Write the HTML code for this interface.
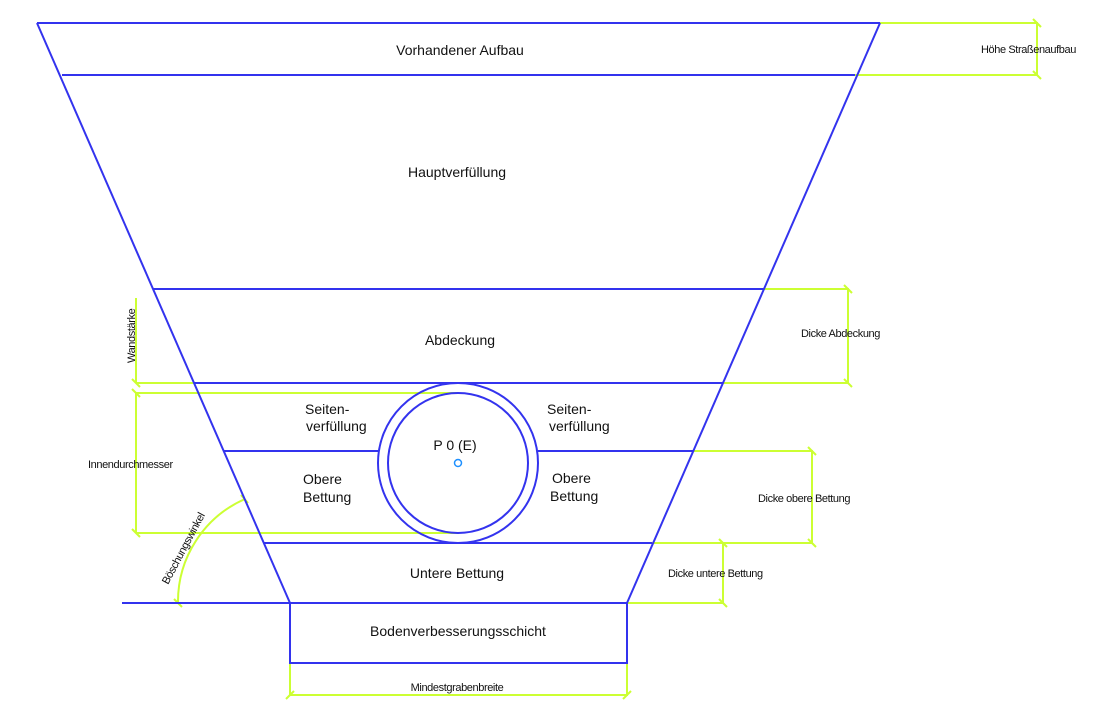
<!DOCTYPE html>
<html><head><meta charset="utf-8"><style>
html,body{margin:0;padding:0;background:#fff;}
svg{display:block;}
text{font-family:"Liberation Sans",sans-serif;fill:#111;}
</style></head><body>
<svg width="1099" height="707" viewBox="0 0 1099 707" xmlns="http://www.w3.org/2000/svg">
<g stroke="#ccff33" stroke-width="2" fill="none">
<!-- Höhe Straßenaufbau -->
<line x1="880" y1="23" x2="1038" y2="23"/><line x1="855" y1="75" x2="1038" y2="75"/><line x1="1037" y1="23" x2="1037" y2="75"/>
<line x1="1033" y1="19" x2="1041" y2="27"/><line x1="1033" y1="71" x2="1041" y2="79"/>
<!-- Dicke Abdeckung -->
<line x1="764" y1="289" x2="849" y2="289"/><line x1="723" y1="383" x2="849" y2="383"/><line x1="848" y1="289" x2="848" y2="383"/>
<line x1="844" y1="285" x2="852" y2="293"/><line x1="844" y1="379" x2="852" y2="387"/>
<!-- Dicke obere Bettung -->
<line x1="693" y1="451" x2="813" y2="451"/><line x1="652" y1="543" x2="813" y2="543"/><line x1="812" y1="451" x2="812" y2="543"/>
<line x1="808" y1="447" x2="816" y2="455"/><line x1="808" y1="539" x2="816" y2="547"/>
<!-- Dicke untere Bettung -->
<line x1="627" y1="603" x2="724" y2="603"/><line x1="723" y1="543" x2="723" y2="603"/>
<line x1="719" y1="539" x2="727" y2="547"/><line x1="719" y1="599" x2="727" y2="607"/>
<!-- Left dims -->
<line x1="136" y1="383" x2="194" y2="383"/><line x1="136" y1="393" x2="458" y2="393"/><line x1="136" y1="533" x2="458" y2="533"/>
<line x1="136" y1="298" x2="136" y2="383"/><line x1="136" y1="393" x2="136" y2="533"/>
<line x1="132" y1="379" x2="140" y2="387"/><line x1="132" y1="389" x2="140" y2="397"/><line x1="132" y1="529" x2="140" y2="537"/>
<!-- Mindestgrabenbreite -->
<line x1="290" y1="663" x2="290" y2="696"/><line x1="627" y1="663" x2="627" y2="696"/><line x1="290" y1="695" x2="627" y2="695"/>
<line x1="286" y1="699" x2="294" y2="691"/><line x1="623" y1="699" x2="631" y2="691"/>
<!-- Arc -->
<path d="M178 603 A112 112 0 0 1 245 499"/>
<line x1="174" y1="599" x2="182" y2="607"/><line x1="241" y1="495" x2="248" y2="503"/>
</g>
<g stroke="#3333ee" stroke-width="2" fill="none">
<line x1="37" y1="23" x2="880" y2="23"/><line x1="62" y1="75" x2="855" y2="75"/>
<line x1="37" y1="23" x2="290" y2="603"/><line x1="880" y1="23" x2="627" y2="603"/>
<line x1="153" y1="289" x2="764" y2="289"/>
<line x1="194" y1="383" x2="723" y2="383"/>
<line x1="224" y1="451" x2="378" y2="451"/><line x1="538" y1="451" x2="693" y2="451"/>
<line x1="264" y1="543" x2="652" y2="543"/>
<line x1="122" y1="603" x2="627" y2="603"/>
<polyline points="290,603 290,663 627,663 627,603"/>
<circle cx="458" cy="463" r="80"/><circle cx="458" cy="463" r="70"/>
</g>
<circle cx="458" cy="463" r="3.5" fill="none" stroke="#1e90ff" stroke-width="1.5"/>
<g font-size="14" text-anchor="middle">
<text x="460" y="55">Vorhandener Aufbau</text>
<text x="457" y="177">Hauptverfüllung</text>
<text x="460" y="345">Abdeckung</text>
<text x="455" y="450">P 0 (E)</text>
<text x="457" y="578">Untere Bettung</text>
<text x="458" y="636">Bodenverbesserungsschicht</text>
</g>
<g font-size="14">
<text x="305" y="414">Seiten-</text><text x="306" y="431">verfüllung</text>
<text x="547" y="414">Seiten-</text><text x="549" y="431">verfüllung</text>
<text x="303" y="484">Obere</text><text x="303" y="502">Bettung</text>
<text x="552" y="483">Obere</text><text x="550" y="501">Bettung</text>
</g>
<g font-size="11" letter-spacing="-0.4">
<text x="981" y="53">Höhe Straßenaufbau</text>
<text x="801" y="337">Dicke Abdeckung</text>
<text x="758" y="502">Dicke obere Bettung</text>
<text x="668" y="577">Dicke untere Bettung</text>
<text x="88" y="468">Innendurchmesser</text>
<text x="457" y="691" text-anchor="middle">Mindestgrabenbreite</text>
<text transform="translate(135,363) rotate(-90)">Wandstärke</text>
<text transform="translate(168,585) rotate(-62)">Böschungswinkel</text>
</g>
</svg>
</body></html>
